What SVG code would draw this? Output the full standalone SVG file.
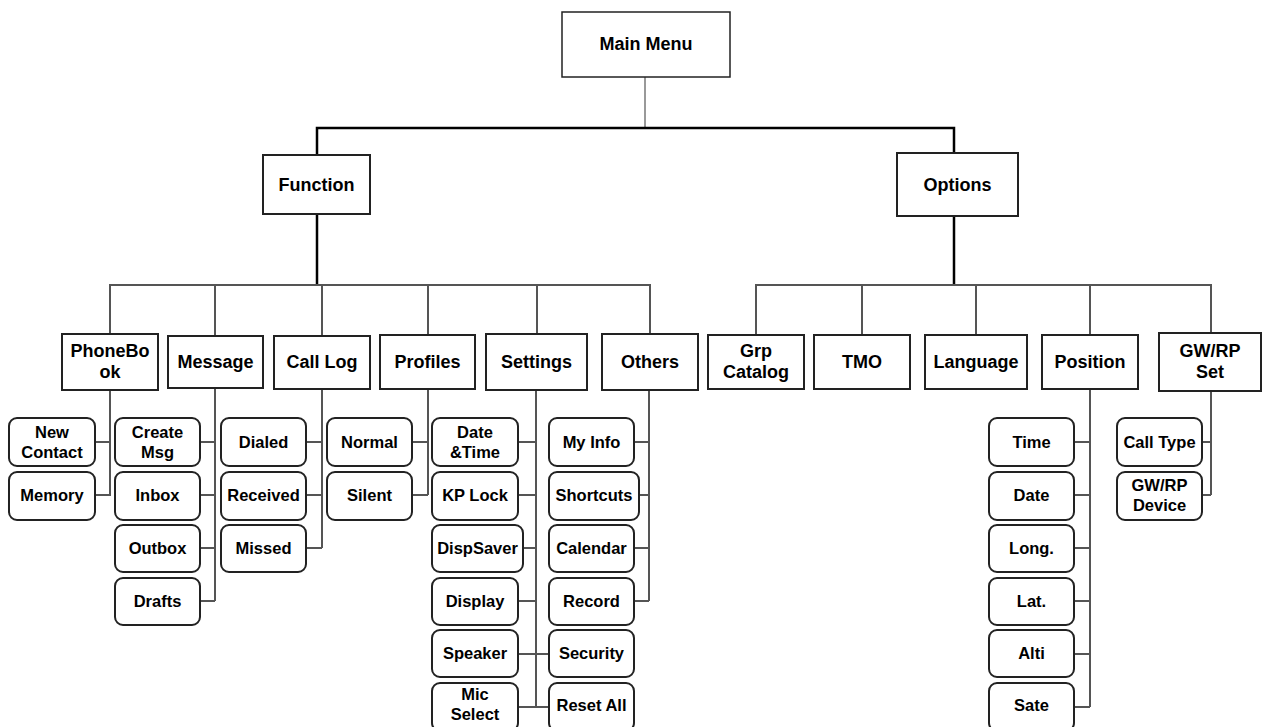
<svg xmlns="http://www.w3.org/2000/svg" width="1263" height="727" viewBox="0 0 1263 727">
<style>
text{font-family:"Liberation Sans",Arial,sans-serif;font-weight:bold;fill:#000;text-anchor:middle}
.t2{font-size:18px}
.t3{font-size:16.5px}
.b2{fill:#fff;stroke:#222;stroke-width:2}
.b3{fill:#fff;stroke:#222;stroke-width:2}
.thin{stroke:#555;stroke-width:1.2;fill:none}
.main{stroke:#000;stroke-width:2.5;fill:none}
.sub{stroke:#555;stroke-width:2;fill:none}
</style>
<rect width="1263" height="727" fill="#fff"/>
<g id="connectors">
<path class="thin" d="M645 77V128"/>
<path class="main" d="M317 155V128H954V153M317 214V285M954 216V285"/>
<path class="sub" d="M110 334V285H650V334M215 285V336M322 285V336M428 285V334M537 285V334"/>
<path class="sub" d="M756 335V285H1211V333M862 285V335M976 285V335M1090 285V335"/>
<path class="sub" d="M110 390V495H95M95 442H110"/>
<path class="sub" d="M215 388V601M200 442H215M200 495H215M200 548H215M200 601H215"/>
<path class="sub" d="M322 389V548M306 442H322M306 495H322M306 548H322"/>
<path class="sub" d="M428 390V495M412 442H428M412 495H428"/>
<path class="sub" d="M536 390V707M518 442H536M518 495H536M523 548H536M518 601H536M518 654H549M518 707H549"/>
<path class="sub" d="M649 390V601M634 442H649M639 495H649M634 548H649M634 601H649"/>
<path class="sub" d="M1090 389V707M1074 442H1090M1074 495H1090M1074 548H1090M1074 601H1090M1074 654H1090M1074 707H1090"/>
<path class="sub" d="M1211 391V495M1202 442H1211M1202 495H1211"/>
</g>
<g id="main-menu"><rect x="562" y="12" width="168" height="65" fill="#fff" stroke="#222" stroke-width="1.5"/><text class="t2" x="646" y="50">Main Menu</text></g>
<g id="function"><rect class="b2" x="263" y="155" width="107" height="59"/><text class="t2" x="316.5" y="191">Function</text></g>
<g id="options"><rect class="b2" x="897" y="153" width="121" height="63"/><text class="t2" x="957.5" y="191">Options</text></g>
<g id="phonebook"><rect class="b2" x="62" y="334" width="96" height="56"/><text class="t2" x="110" y="357">PhoneBo</text><text class="t2" x="110" y="378">ok</text></g>
<g id="message"><rect class="b2" x="168" y="336" width="95" height="52"/><text class="t2" x="215.5" y="368">Message</text></g>
<g id="calllog"><rect class="b2" x="274" y="336" width="96" height="53"/><text class="t2" x="322" y="368">Call Log</text></g>
<g id="profiles"><rect class="b2" x="380" y="335" width="95" height="54"/><text class="t2" x="427.5" y="368">Profiles</text></g>
<g id="settings"><rect class="b2" x="486" y="334" width="101" height="56"/><text class="t2" x="536.5" y="368">Settings</text></g>
<g id="others"><rect class="b2" x="602" y="334" width="96" height="56"/><text class="t2" x="650" y="368">Others</text></g>
<g id="grpcatalog"><rect class="b2" x="708" y="335" width="96" height="54"/><text class="t2" x="756" y="357">Grp</text><text class="t2" x="756" y="378">Catalog</text></g>
<g id="tmo"><rect class="b2" x="814" y="335" width="96" height="54"/><text class="t2" x="862" y="368">TMO</text></g>
<g id="language"><rect class="b2" x="925" y="335" width="102" height="54"/><text class="t2" x="976" y="368">Language</text></g>
<g id="position"><rect class="b2" x="1042" y="335" width="96" height="54"/><text class="t2" x="1090" y="368">Position</text></g>
<g id="gwrpset"><rect class="b2" x="1159" y="333" width="102" height="58"/><text class="t2" x="1210" y="357">GW/RP</text><text class="t2" x="1210" y="378">Set</text></g>

<g id="newcontact"><rect class="b3" x="9" y="418" width="86" height="48" rx="8"/><text class="t3" x="52" y="438">New</text><text class="t3" x="52" y="458">Contact</text></g>
<g id="memory"><rect class="b3" x="9" y="472" width="86" height="48" rx="8"/><text class="t3" x="52" y="501">Memory</text></g>
<g id="createmsg"><rect class="b3" x="115" y="418" width="85" height="48" rx="8"/><text class="t3" x="157.5" y="438">Create</text><text class="t3" x="157.5" y="458">Msg</text></g>
<g id="inbox"><rect class="b3" x="115" y="472" width="85" height="48" rx="8"/><text class="t3" x="157.5" y="501">Inbox</text></g>
<g id="outbox"><rect class="b3" x="115" y="525" width="85" height="47" rx="8"/><text class="t3" x="157.5" y="554">Outbox</text></g>
<g id="drafts"><rect class="b3" x="115" y="578" width="85" height="47" rx="8"/><text class="t3" x="157.5" y="607">Drafts</text></g>
<g id="dialed"><rect class="b3" x="221" y="418" width="85" height="48" rx="8"/><text class="t3" x="263.5" y="448">Dialed</text></g>
<g id="received"><rect class="b3" x="221" y="472" width="85" height="48" rx="8"/><text class="t3" x="263.5" y="501">Received</text></g>
<g id="missed"><rect class="b3" x="221" y="525" width="85" height="47" rx="8"/><text class="t3" x="263.5" y="554">Missed</text></g>
<g id="normal"><rect class="b3" x="327" y="418" width="85" height="48" rx="8"/><text class="t3" x="369.5" y="448">Normal</text></g>
<g id="silent"><rect class="b3" x="327" y="472" width="85" height="48" rx="8"/><text class="t3" x="369.5" y="501">Silent</text></g>
<g id="datetime"><rect class="b3" x="432" y="418" width="86" height="48" rx="8"/><text class="t3" x="475" y="438">Date</text><text class="t3" x="475" y="458">&amp;Time</text></g>
<g id="kplock"><rect class="b3" x="432" y="472" width="86" height="48" rx="8"/><text class="t3" x="475" y="501">KP Lock</text></g>
<g id="dispsaver"><rect class="b3" x="432" y="525" width="91" height="47" rx="8"/><text class="t3" x="477.5" y="554">DispSaver</text></g>
<g id="display"><rect class="b3" x="432" y="578" width="86" height="47" rx="8"/><text class="t3" x="475" y="607">Display</text></g>
<g id="speaker"><rect class="b3" x="432" y="630" width="86" height="47" rx="8"/><text class="t3" x="475" y="659">Speaker</text></g>
<g id="micselect"><rect class="b3" x="432" y="683" width="86" height="48" rx="8"/><text class="t3" x="475" y="700">Mic</text><text class="t3" x="475" y="720">Select</text></g>
<g id="myinfo"><rect class="b3" x="549" y="418" width="85" height="48" rx="8"/><text class="t3" x="591.5" y="448">My Info</text></g>
<g id="shortcuts"><rect class="b3" x="549" y="472" width="90" height="48" rx="8"/><text class="t3" x="594" y="501">Shortcuts</text></g>
<g id="calendar"><rect class="b3" x="549" y="525" width="85" height="47" rx="8"/><text class="t3" x="591.5" y="554">Calendar</text></g>
<g id="record"><rect class="b3" x="549" y="578" width="85" height="47" rx="8"/><text class="t3" x="591.5" y="607">Record</text></g>
<g id="security"><rect class="b3" x="549" y="630" width="85" height="47" rx="8"/><text class="t3" x="591.5" y="659">Security</text></g>
<g id="resetall"><rect class="b3" x="549" y="683" width="85" height="48" rx="8"/><text class="t3" x="591.5" y="711">Reset All</text></g>
<g id="time"><rect class="b3" x="989" y="418" width="85" height="48" rx="8"/><text class="t3" x="1031.5" y="448">Time</text></g>
<g id="date"><rect class="b3" x="989" y="472" width="85" height="48" rx="8"/><text class="t3" x="1031.5" y="501">Date</text></g>
<g id="long"><rect class="b3" x="989" y="525" width="85" height="47" rx="8"/><text class="t3" x="1031.5" y="554">Long.</text></g>
<g id="lat"><rect class="b3" x="989" y="578" width="85" height="47" rx="8"/><text class="t3" x="1031.5" y="607">Lat.</text></g>
<g id="alti"><rect class="b3" x="989" y="630" width="85" height="47" rx="8"/><text class="t3" x="1031.5" y="659">Alti</text></g>
<g id="sate"><rect class="b3" x="989" y="683" width="85" height="48" rx="8"/><text class="t3" x="1031.5" y="711">Sate</text></g>
<g id="calltype"><rect class="b3" x="1117" y="418" width="85" height="48" rx="8"/><text class="t3" x="1159.5" y="448">Call Type</text></g>
<g id="gwrpdevice"><rect class="b3" x="1117" y="472" width="85" height="48" rx="8"/><text class="t3" x="1159.5" y="491">GW/RP</text><text class="t3" x="1159.5" y="511">Device</text></g>
</svg>
